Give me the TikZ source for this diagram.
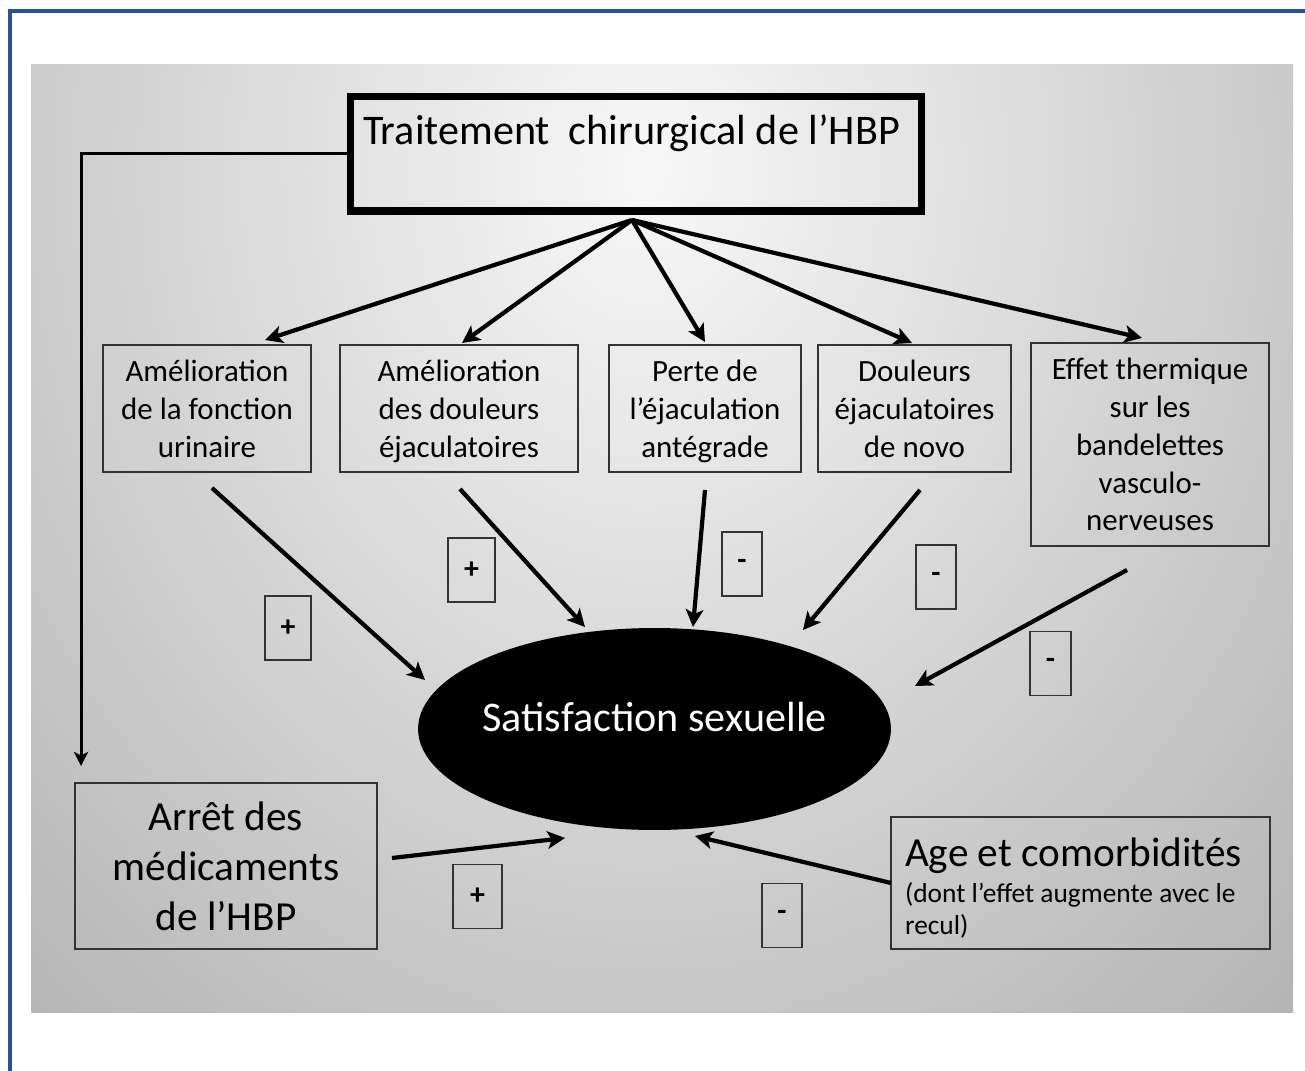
\documentclass[tikz,border=0pt]{standalone}
\usepackage{fontspec}
\setmainfont{Carlito}
\usetikzlibrary{arrows.meta,shapes.geometric}
\definecolor{bgin}{gray}{0.97}
\definecolor{bgout}{gray}{0.33}
\definecolor{frameblue}{RGB}{40,80,160}
\definecolor{boxline}{gray}{0.2}
\pgfdeclareradialshading{bgglow}{\pgfpoint{0bp}{0bp}}{color(0bp)=(bgin); color(50bp)=(bgout)}

\tikzset{
    box/.style={draw=boxline, line width=1pt, inner sep=0pt, outer sep=0pt,
        align=center, text depth=0pt, font=\fontsize{17.6}{21.5}\selectfont},
    titlebox/.style={draw=black, line width=4pt, inner xsep=0.25cm, inner ysep=0pt,
        outer sep=0pt, text width=10.92cm, align=flush left, text height=0.97cm,
        text depth=1.32cm, font=\fontsize{24}{28}\selectfont},
    signbox/.style={draw=boxline, line width=1pt, inner sep=0pt, outer sep=0pt,
        minimum width=#1, minimum height=1.28cm, font=\bfseries\fontsize{17}{20}\selectfont},
    arr/.style={line width=2.4pt, -{Stealth[length=10pt,width=10pt,inset=2.5pt]}},
    thinarr/.style={line width=1.7pt, -{Stealth[length=8pt,width=8pt,inset=2pt]}},
}

\begin{document}
\begin{tikzpicture}[x=0.02cm, y=-0.02cm]
    \useasboundingbox (0,0) rectangle (1305,1071);
    \fill[white] (0,0) rectangle (1305,1071);
    \draw[frameblue, line width=2pt] (10,1071) -- (10,11) -- (1305,11);
    \begin{scope}
        \clip (31,65) rectangle (1293,1012);
        \shade[shading=bgglow] (645,170) ellipse [x radius=23cm, y radius=28cm];
    \end{scope}

    \node[titlebox, minimum width=11.42cm] (trt) at (636,153.75)
        {\mbox{Traitement\ \ chirurgical de l’HBP}};

    \node[box, minimum width=4.16cm, minimum height=2.54cm] (b1) at (207,408.5)
        {Amélioration\\de la fonction\\urinaire};
    \node[box, minimum width=4.76cm, minimum height=2.54cm] (b2) at (459,408.5)
        {Amélioration\\des douleurs\\éjaculatoires};
    \node[box, minimum width=3.84cm, minimum height=2.54cm] (b3) at (705,408.5)
        {Perte de\\l’éjaculation\\antégrade};
    \node[box, minimum width=3.86cm, minimum height=2.54cm] (b4) at (914.5,408.5)
        {Douleurs\\éjaculatoires\\de novo};
    \node[box, minimum width=4.76cm, minimum height=4.06cm] (b5) at (1150,444.5)
        {Effet thermique\\sur les\\bandelettes\\vasculo-\\nerveuses};

    \node[ellipse, fill=black, inner sep=0pt, outer sep=0pt,
        minimum width=9.46cm, minimum height=4.04cm,
        label={[white, yshift=0.23cm, font=\fontsize{24}{28}\selectfont]center:Satisfaction sexuelle}]
        (sat) at (654.5,729) {};

    \node[box, minimum width=6.04cm, minimum height=3.32cm,
        font=\fontsize{23.5}{28.3}\selectfont] (arret) at (226,866)
        {Arrêt des\\médicaments\\de l’HBP};
    \node[draw=boxline, line width=1pt, outer sep=0pt, minimum width=7.58cm,
        minimum height=2.64cm, align=flush left, text width=7.02cm, inner xsep=0.28cm,
        inner ysep=0pt, font=\fontsize{15.6}{18.5}\selectfont] (age) at (1080.5,883)
        {{\fontsize{23.5}{28}\selectfont\rule{0pt}{22pt}Age et comorbidités}\\[2pt](dont l’effet augmente avec le\\recul)};

    \node[signbox=0.92cm] (p1) at (288,628) {+};
    \node[signbox=0.94cm] (p2) at (471.5,570) {+};
    \node[signbox=0.80cm] (m3) at (742,564) {-};
    \node[signbox=0.80cm] (m4) at (936,577) {-};
    \node[signbox=0.82cm] (m5) at (1050.5,663.5) {-};
    \node[signbox=0.98cm] (p6) at (477.5,896.5) {+};
    \node[signbox=0.80cm] (m7) at (782,915.5) {-};

    \coordinate (fan) at ([xshift=-0.08cm,yshift=-0.18cm]trt.south);
    \draw[arr] (fan) -- ([xshift=1.16cm,yshift=0.1cm]b1.north);
    \draw[arr] (fan) -- ([xshift=0.06cm,yshift=0.04cm]b2.north);
    \draw[arr] (fan) -- ([yshift=0.06cm]b3.north);
    \draw[arr] (fan) -- ([xshift=-0.05cm,yshift=0.04cm]b4.north);
    \draw[arr] (fan) -- ([xshift=-0.16cm,yshift=0.1cm]b5.north);

    \draw[thinarr] (trt.west) -| ([xshift=-2.9cm,yshift=0.34cm]arret.north);

    \draw[arr] ([xshift=0.1cm,yshift=-0.32cm]b1.south) -- ([xshift=-4.59cm,yshift=0.98cm]sat.center);
    \draw[arr] ([xshift=0.02cm,yshift=-0.34cm]b2.south) -- ([xshift=-1.39cm,yshift=2.04cm]sat.center);
    \draw[arr] ([yshift=-0.36cm]b3.south) -- ([xshift=0.77cm,yshift=2.04cm]sat.center);
    \draw[arr] ([xshift=0.11cm,yshift=-0.36cm]b4.south) -- ([xshift=2.97cm,yshift=1.98cm]sat.center);
    \draw[arr] ([xshift=-0.46cm,yshift=-0.48cm]b5.south) -- ([xshift=5.21cm,yshift=0.86cm]sat.center);
    \draw[arr] ([xshift=0.3cm,yshift=0.16cm]arret.east) -- ([xshift=-1.79cm,yshift=-2.18cm]sat.center);
    \draw[arr] (age.west) -- ([xshift=0.81cm,yshift=-2.14cm]sat.center);
\end{tikzpicture}
\end{document}
